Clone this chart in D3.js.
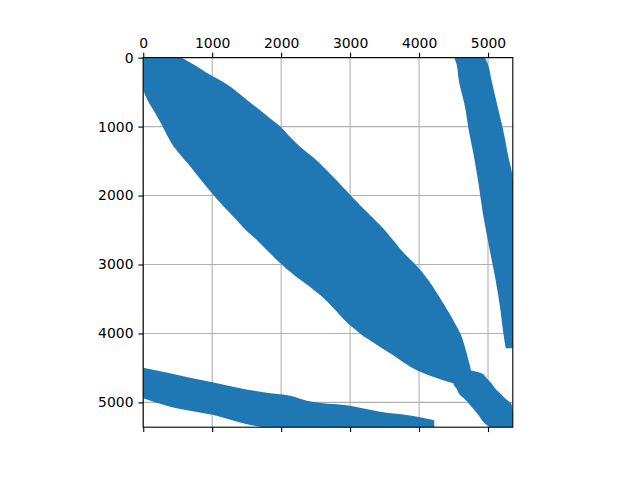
<!DOCTYPE html>
<html>
<head>
<meta charset="utf-8">
<script src="https://cdn.jsdelivr.net/npm/d3@7"></script>
<style>
  body { margin: 0; background: #fff; }
  text { font-family: "DejaVu Sans", sans-serif; }
</style>
</head>
<body>
<div id="plot"></div>
<script>
// matrix size and tick values
const N = 5360;
const ticks = [0, 1000, 2000, 3000, 4000, 5000];

// main diagonal band: for each row, first and last non-zero column
const mainRows  = [0, 108, 254, 351, 440, 496, 542, 688, 760, 930, 1011, 1122, 1292, 1315, 1485, 1533, 1678, 2017, 2355, 2500, 2597, 2645, 2838, 3007, 3225, 3322, 3563, 3805, 3998, 4047, 4192, 4288, 4385, 4506, 4578, 4651, 4723];
const mainLeft  = [0, 0, 0, 0, 0, 10, 26, 99, 150, 244, 290, 341, 440, 461, 600, 650, 760, 1030, 1356, 1480, 1597, 1650, 1839, 2008, 2274, 2419, 2709, 2902, 3144, 3200, 3434, 3580, 3724, 3900, 4062, 4256, 4497];
const mainRight = [560, 751, 969, 1162, 1290, 1356, 1420, 1597, 1694, 1900, 2008, 2100, 2274, 2300, 2516, 2560, 2709, 3023, 3361, 3506, 3580, 3627, 3772, 3966, 4134, 4200, 4352, 4497, 4600, 4619, 4665, 4691, 4715, 4749, 4760, 4720, 4560];

// bottom-right block
const blobRows  = [4540, 4578, 4650, 4675, 4723, 4772, 4796, 4893, 4941, 5038, 5183, 5328, 5360];
const blobLeft  = [4740, 4680, 4580, 4550, 4497, 4521, 4540, 4594, 4650, 4739, 4860, 4981, 5029];
const blobRight = [4780, 4908, 4980, 5005, 5050, 5085, 5102, 5200, 5247, 5344, 5360, 5360, 5360];

// upper-right band
const upperRows  = [0, 100, 325, 712, 1050, 1388, 1800, 2258, 2790, 3225, 3660, 3998, 4216];
const upperLeft  = [4511, 4545, 4575, 4666, 4720, 4787, 4858, 4925, 5025, 5110, 5180, 5222, 5257];
const upperRight = [4957, 5000, 5050, 5140, 5220, 5285, 5360, 5360, 5360, 5360, 5360, 5360, 5360];

// lower-left band: for each column, first and last non-zero row
const lowerCols   = [0, 389, 679, 1002, 1404, 1791, 1839, 2129, 2371, 2999, 3434, 3917, 4221];
const lowerTop    = [4497, 4578, 4642, 4709, 4796, 4860, 4868, 4903, 4975, 5048, 5135, 5197, 5258];
const lowerBottom = [4941, 5062, 5120, 5180, 5290, 5360, 5360, 5360, 5360, 5360, 5360, 5360, 5360];

const width = 640, height = 480;
const axL = 143.2, axR = 512.8, axT = 57.6, axB = 427.2;
const blue = "#1f77b4";

const svg = d3.select("#plot").append("svg")
    .attr("width", width)
    .attr("height", height);

const x = d3.scaleLinear().domain([-0.5, N - 0.5]).range([axL, axR]);
const y = d3.scaleLinear().domain([-0.5, N - 0.5]).range([axT, axB]);

// grid
const grid = svg.append("g").attr("stroke", "#b0b0b0").attr("stroke-width", 1.1);
ticks.forEach(t => {
    grid.append("line").attr("x1", x(t)).attr("x2", x(t)).attr("y1", axT).attr("y2", axB);
    grid.append("line").attr("y1", y(t)).attr("y2", y(t)).attr("x1", axL).attr("x2", axR);
});

svg.append("clipPath").attr("id", "clip")
    .append("rect").attr("x", axL).attr("y", axT)
    .attr("width", axR - axL).attr("height", axB - axT);

const marks = svg.append("g").attr("clip-path", "url(#clip)");

// bands drawn by rows
const bands = [
    [mainRows, mainLeft, mainRight, d3.curveBasis],
    [blobRows, blobLeft, blobRight, d3.curveMonotoneY],
    [upperRows, upperLeft, upperRight, d3.curveMonotoneY]
];

bands.forEach(([rows, lo, hi, curve]) => {
    const rowArea = d3.area()
        .y(d => y(d.r))
        .x0(d => x(d.l))
        .x1(d => x(d.h))
        .curve(curve);
    marks.append("path")
        .datum(rows.map((r, i) => ({ r: r, l: lo[i], h: hi[i] })))
        .attr("d", rowArea)
        .attr("fill", blue);
});

// lower-left band drawn by columns
const colArea = d3.area()
    .x(d => x(d.c))
    .y0(d => y(d.t))
    .y1(d => y(d.b))
    .curve(d3.curveMonotoneX);

marks.append("path")
    .datum(lowerCols.map((c, i) => ({ c: c, t: lowerTop[i], b: lowerBottom[i] })))
    .attr("d", colArea)
    .attr("fill", blue);

// axes
const tickLen = 4.86, pad = 4.86;
const fmt = d3.format("d");

const xTop = svg.append("g")
    .attr("transform", `translate(0,${axT})`)
    .call(d3.axisTop(x).tickValues(ticks).tickSize(tickLen).tickPadding(pad).tickFormat(fmt));

const xBottom = svg.append("g")
    .attr("transform", `translate(0,${axB})`)
    .call(d3.axisBottom(x).tickValues(ticks).tickSize(tickLen).tickFormat(""));

const yLeft = svg.append("g")
    .attr("transform", `translate(${axL},0)`)
    .call(d3.axisLeft(y).tickValues(ticks).tickSize(tickLen).tickPadding(pad).tickFormat(fmt));

[xTop, xBottom, yLeft].forEach(g => {
    g.select(".domain").remove();
    g.selectAll(".tick line").attr("stroke", "#000").attr("stroke-width", 1.1);
    g.selectAll(".tick text")
        .attr("fill", "#000")
        .style("font-family", "'DejaVu Sans', sans-serif")
        .style("font-size", "13.9px");
});

// spines
svg.append("rect")
    .attr("x", axL).attr("y", axT)
    .attr("width", axR - axL).attr("height", axB - axT)
    .attr("fill", "none")
    .attr("stroke", "#000")
    .attr("stroke-width", 1.1);
</script>
</body>
</html>
